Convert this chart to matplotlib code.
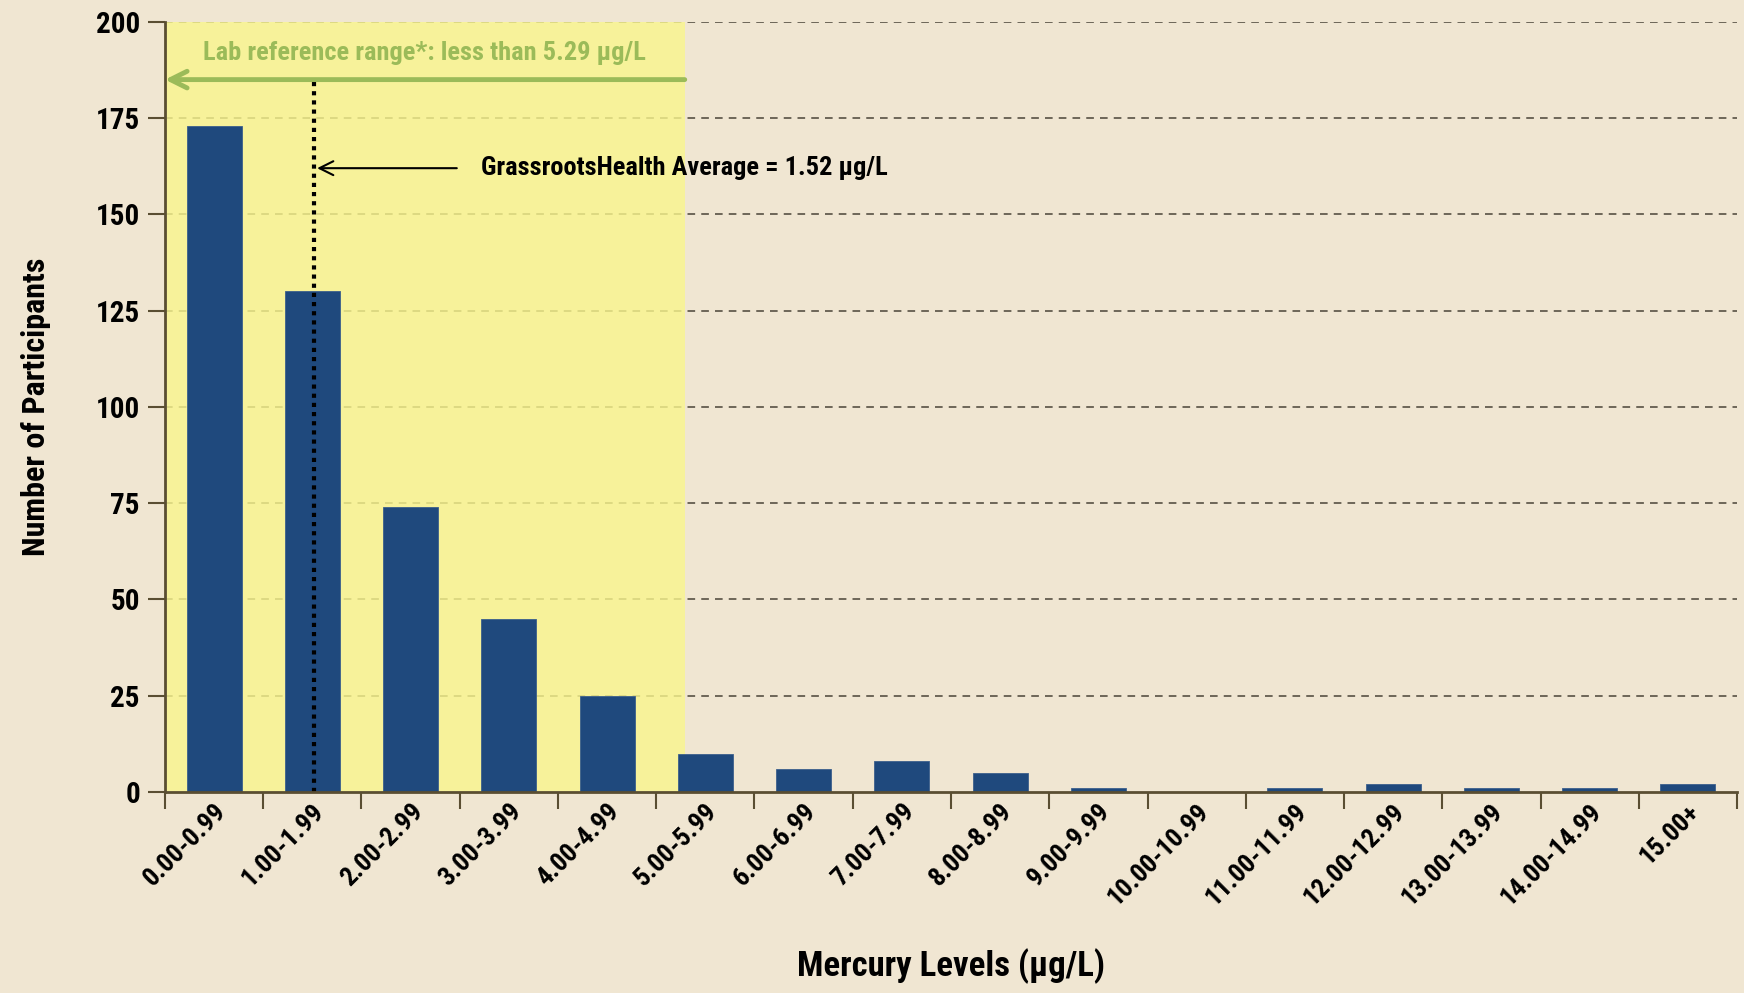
import matplotlib
matplotlib.use("Agg")
import matplotlib.pyplot as plt
import numpy as np

# Data
categories = ["0.00-0.99", "1.00-1.99", "2.00-2.99", "3.00-3.99", "4.00-4.99",
              "5.00-5.99", "6.00-6.99", "7.00-7.99", "8.00-8.99", "9.00-9.99",
              "10.00-10.99", "11.00-11.99", "12.00-12.99", "13.00-13.99",
              "14.00-14.99", "15.00+"]
participants = [173, 130, 74, 45, 25, 10, 6, 8, 5, 1, 0, 1, 2, 1, 1, 2]
y_ticks = [0, 25, 50, 75, 100, 125, 150, 175, 200]
lab_limit = 5.29      # ug/L, lab reference range upper bound
gh_average = 1.52     # ug/L, GrassrootsHealth average

BG = "#F0E6D2"
YELLOW = "#F9F68C"
BAR = "#1F497D"
GREEN = "#9BBB59"
AXIS = "#5A4E32"
FONT = ["Liberation Sans Narrow", "Roboto Condensed", "DejaVu Sans"]

plt.rcParams["font.family"] = FONT
plt.rcParams["font.weight"] = "bold"
plt.rcParams["axes.labelweight"] = "bold"

fig = plt.figure(figsize=(17.44, 9.93), dpi=100, facecolor=BG)
ax = fig.add_axes([0.0946, 0.2024, 0.9014, 0.7756])
ax.set_facecolor(BG)

x = np.arange(len(categories))


def to_x(level):
    # each bin is 1 ug/L wide, bin 0 starts at -0.5 on the category axis
    return level - 0.5


# grid
for yv in y_ticks[1:]:
    ax.axhline(yv, color="#4A4438", lw=1.1, ls=(0, (5, 4)), zorder=0)

# lab reference shading
ax.axvspan(-0.5, to_x(lab_limit), ymin=0, ymax=1, color=YELLOW, alpha=0.8,
           lw=0, zorder=1)

ax.bar(x, participants, width=0.56, color=BAR, edgecolor="#3C5F8C", lw=0.6,
       zorder=2)

# lab reference arrow + label
arrow_y = 185
ax.annotate("", xy=(-0.5, arrow_y), xytext=(to_x(lab_limit), arrow_y),
            arrowprops=dict(arrowstyle="->", color=GREEN, lw=3.5,
                            mutation_scale=30, shrinkA=0, shrinkB=0),
            zorder=4)
ax.text((-0.5 + to_x(lab_limit)) / 2, 192,
        "Lab reference range*: less than 5.29 \u00b5g/L",
        color=GREEN, fontsize=19, ha="center", va="center", zorder=4)

# average dotted line
ax.plot([to_x(gh_average)] * 2, [0, arrow_y], color="black", lw=3,
        ls=(0, (1.0, 1.2)), dash_capstyle="butt", zorder=3)
ax.annotate("", xy=(to_x(gh_average), 162), xytext=(2.47, 162),
            arrowprops=dict(arrowstyle="->", color="black", lw=1.5,
                            mutation_scale=25, shrinkA=0, shrinkB=2),
            zorder=4)
ax.text(2.72, 162, "GrassrootsHealth Average = 1.52 \u00b5g/L",
        color="black", fontsize=19, ha="left", va="center", zorder=4)

ax.set_xlim(-0.5, len(categories) - 0.5)
ax.set_ylim(0, 200)

ax.set_yticks(y_ticks)
ax.set_yticklabels([str(v) for v in y_ticks], fontsize=21)
ax.set_xticks(x)
ax.set_xticklabels(categories, rotation=45, ha="right", va="top",
                   rotation_mode="anchor", fontsize=19)
ax.tick_params(axis="x", which="major", length=0, pad=5)
ax.set_xticks(np.arange(-0.5, len(categories), 1), minor=True)
ax.tick_params(axis="x", which="minor", length=12, width=1.5, color=AXIS,
               direction="out")
ax.tick_params(axis="y", length=12, width=1.5, color=AXIS, direction="out",
               pad=6)

for side in ("top", "right"):
    ax.spines[side].set_visible(False)
for side in ("left", "bottom"):
    ax.spines[side].set_color(AXIS)
    ax.spines[side].set_linewidth(2)
    ax.spines[side].set_zorder(5)

ax.set_ylabel("Number of Participants", fontsize=23, labelpad=32)
ax.set_xlabel("Mercury Levels (\u00b5g/L)", fontsize=25, labelpad=28)

fig.savefig("out.png", dpi=100, facecolor=BG)
